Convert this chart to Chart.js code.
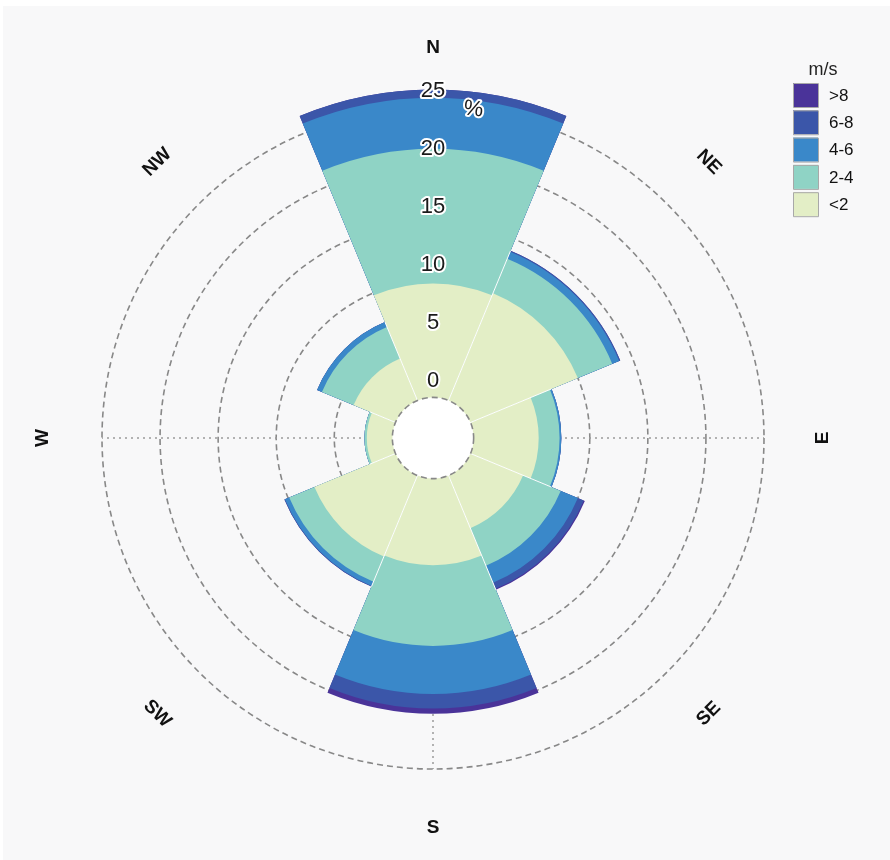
<!DOCTYPE html>
<html>
<head>
<meta charset="utf-8">
<title>Wind rose</title>
<script src="https://cdn.jsdelivr.net/npm/chart.js@4.4.1/dist/chart.umd.min.js"></script>
<style>
  html, body { margin: 0; padding: 0; background: #fff; }
  #wrap { width: 890px; height: 860px; }
</style>
</head>
<body>
<div id="wrap"><canvas id="rose" width="890" height="860"></canvas></div>
<script>
const directions = ['N', 'NE', 'E', 'SE', 'S', 'SW', 'W', 'NW'];
const speedBins = ['<2', '2-4', '4-6', '6-8', '>8'];
const binColors = ['#e3eec6', '#8fd3c5', '#3a88c9', '#3b56a9', '#4a3399'];

// frequency (%) of each speed bin, one value per direction
const calm = [9.8, 10.0, 5.6, 4.9, 7.45, 7.55, 2.2, 3.9];      // <2
const light = [11.6, 3.2, 1.8, 3.5, 6.95, 2.35, 0.2, 2.95];    // 2-4
const moderate = [4.4, 0.65, 0.15, 1.6, 4.15, 0.4, 0, 0.45];   // 4-6
const fresh = [0.7, 0.1, 0, 0.55, 1.25, 0.05, 0, 0];           // 6-8
const strong = [0, 0, 0, 0.1, 0.45, 0, 0, 0];                  // >8

const radialTicks = [0, 5, 10, 15, 20, 25];
const unitLabel = '%';
const legendTitle = 'm/s';

// stacked rose: every dataset holds the running total, smallest one on top
const bins = [calm, light, moderate, fresh, strong];
let running = directions.map(() => 0);
const datasets = bins.map((bin, i) => {
  running = running.map((v, j) => v + bin[j]);
  return {
    label: speedBins[i],
    data: running.slice(),
    backgroundColor: binColors[i],
    borderWidth: 0,
    clip: false,
  };
});
const totals = running;

const FONT = '"Liberation Sans", Arial, sans-serif';
const GRID = '#888888';
const GRID_DASH = [6, 4];

const roseDecor = {
  id: 'roseDecor',
  beforeDraw(chart) {
    const ctx = chart.ctx;
    ctx.save();
    ctx.fillStyle = '#ffffff';
    ctx.fillRect(0, 0, chart.width, chart.height);
    ctx.fillStyle = '#f8f8f9';
    ctx.fillRect(3, 6, chart.width - 3, chart.height - 6);
    ctx.restore();
  },
  beforeDatasetsDraw(chart) {
    // dotted N / E / S / W axes, under the bars
    const scale = chart.scales.r;
    const ctx = chart.ctx;
    ctx.save();
    ctx.strokeStyle = '#9a9a9a';
    ctx.lineWidth = 1.5;
    ctx.setLineDash([2, 4]);
    for (let i = 0; i < directions.length; i += 2) {
      const p = scale.getPointPosition(i + 0.5, scale.drawingArea);
      ctx.beginPath();
      ctx.moveTo(scale.xCenter, scale.yCenter);
      ctx.lineTo(p.x, p.y);
      ctx.stroke();
    }
    ctx.restore();
  },
  afterDatasetsDraw(chart) {
    const scale = chart.scales.r;
    const ctx = chart.ctx;
    ctx.save();
    // thin white seams where two sectors touch
    ctx.strokeStyle = '#ffffff';
    ctx.lineWidth = 1;
    for (let i = 0; i < directions.length; i++) {
      const prev = (i + directions.length - 1) % directions.length;
      const r = scale.getDistanceFromCenterForValue(Math.min(totals[i], totals[prev]));
      const p = scale.getPointPosition(i, r);
      ctx.beginPath();
      ctx.moveTo(scale.xCenter, scale.yCenter);
      ctx.lineTo(p.x, p.y);
      ctx.stroke();
    }
    // empty hole below the zero ring, with its dashed edge
    const r0 = scale.getDistanceFromCenterForValue(0);
    ctx.fillStyle = '#ffffff';
    ctx.beginPath();
    ctx.arc(scale.xCenter, scale.yCenter, r0, 0, Math.PI * 2);
    ctx.fill();
    ctx.strokeStyle = GRID;
    ctx.lineWidth = 1.6;
    ctx.setLineDash(GRID_DASH);
    ctx.stroke();
    ctx.restore();
  },
  afterDraw(chart) {
    const scale = chart.scales.r;
    const ctx = chart.ctx;
    ctx.save();
    ctx.textAlign = 'center';
    ctx.textBaseline = 'middle';
    ctx.lineJoin = 'round';

    // radial tick labels with a white halo
    ctx.font = '22px ' + FONT;
    ctx.strokeStyle = '#ffffff';
    ctx.lineWidth = 4;
    ctx.fillStyle = '#1a1a1a';
    radialTicks.forEach((v) => {
      const y = scale.yCenter - scale.getDistanceFromCenterForValue(v) - 16;
      ctx.strokeText(String(v), scale.xCenter, y);
      ctx.fillText(String(v), scale.xCenter, y);
    });

    // unit on the outer ring
    const ua = 7 * Math.PI / 180;
    const ur = scale.drawingArea;
    ctx.save();
    ctx.translate(scale.xCenter + ur * Math.sin(ua), scale.yCenter - ur * Math.cos(ua));
    ctx.rotate(ua);
    ctx.strokeText(unitLabel, 0, 0);
    ctx.fillText(unitLabel, 0, 0);
    ctx.restore();

    // compass labels, turned to follow the circle
    ctx.font = 'bold 19px ' + FONT;
    ctx.fillStyle = '#111111';
    directions.forEach((d, i) => {
      const p = scale.getPointPosition(i + 0.5, scale.drawingArea + 59);
      const theta = i * 45;
      const rot = ((theta + 90) % 180) - 90;
      ctx.save();
      ctx.translate(p.x, p.y);
      ctx.rotate(rot * Math.PI / 180);
      ctx.fillText(d, 0, 0);
      ctx.restore();
    });

    // legend, fastest bin on top
    ctx.font = '18px ' + FONT;
    ctx.fillStyle = '#222222';
    ctx.fillText(legendTitle, 823, 70);
    ctx.font = '17px ' + FONT;
    ctx.textAlign = 'left';
    const items = chart.data.datasets.slice().reverse();
    items.forEach((ds, i) => {
      const y = 83 + i * 27.3;
      ctx.fillStyle = ds.backgroundColor;
      ctx.fillRect(793, y, 25, 24);
      ctx.strokeStyle = '#a8a8a8';
      ctx.lineWidth = 1;
      ctx.strokeRect(793.5, y + 0.5, 25, 24);
      ctx.fillStyle = '#111111';
      ctx.fillText(ds.label, 829, y + 13);
    });
    ctx.restore();
  },
};

new Chart(document.getElementById('rose'), {
  type: 'polarArea',
  data: {
    labels: directions,
    datasets: datasets,
  },
  options: {
    responsive: false,
    animation: false,
    layout: {
      padding: { left: 102, right: 126, top: 107, bottom: 91 },
    },
    plugins: {
      legend: { display: false },
      tooltip: { enabled: false },
    },
    scales: {
      r: {
        min: -3.5,
        max: 25,
        startAngle: -22.5,
        z: 1,
        // a blank first tick at the scale minimum, so the zero ring gets drawn too
        afterBuildTicks: (scale) => {
          scale.ticks = [{ value: scale.min }].concat(radialTicks.map((v) => ({ value: v })));
        },
        ticks: { display: false },
        grid: {
          circular: true,
          lineWidth: 1.6,
          color: (c) => (c.tick && c.tick.value < 0 ? 'rgba(0,0,0,0)' : GRID),
        },
        border: { dash: GRID_DASH },
        angleLines: { display: false },
        pointLabels: { display: false },
      },
    },
  },
  plugins: [roseDecor],
});
</script>
</body>
</html>
